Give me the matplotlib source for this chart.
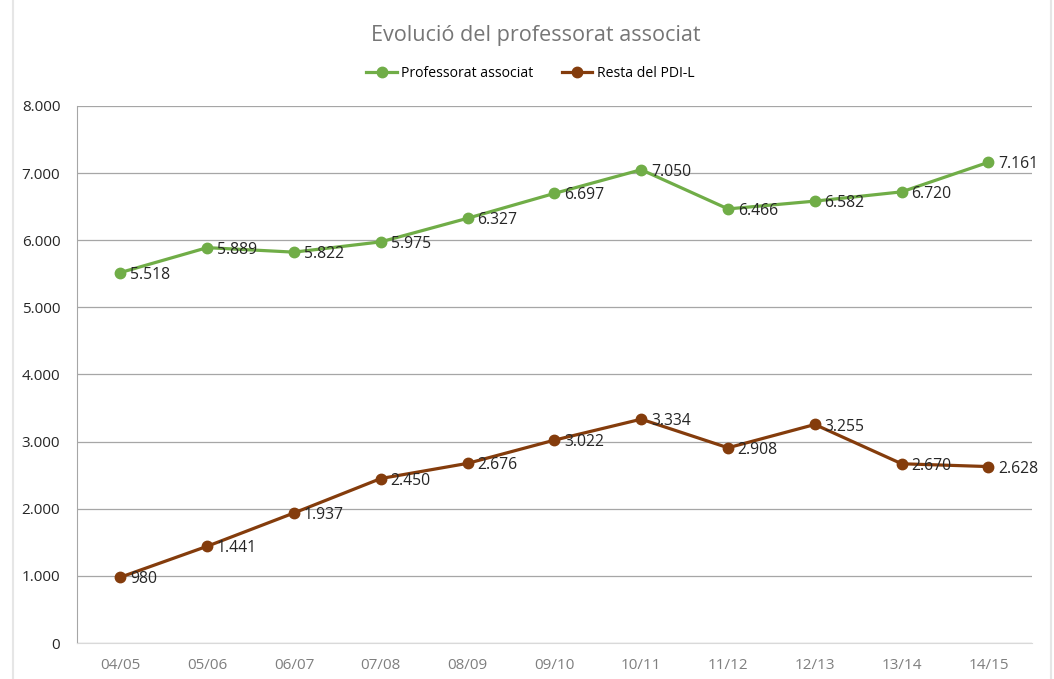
import matplotlib
matplotlib.use("Agg")
import matplotlib.pyplot as plt
from matplotlib.ticker import FuncFormatter, MultipleLocator

categories = ["04/05", "05/06", "06/07", "07/08", "08/09", "09/10", "10/11", "11/12", "12/13", "13/14", "14/15"]
associat = [5518, 5889, 5822, 5975, 6327, 6697, 7050, 6466, 6582, 6720, 7161]
resta = [980, 1441, 1937, 2450, 2676, 3022, 3334, 2908, 3255, 2670, 2628]

plt.rcParams['font.family'] = ['Open Sans', 'DejaVu Sans']

def fmt(v):
    return f"{int(v):,}".replace(",", ".")

fig = plt.figure(figsize=(10.54, 6.79), dpi=100)
ax = fig.add_axes([0.073, 0.053, 0.906, 0.791])

x = list(range(len(categories)))
green = "#70AD47"
brown = "#843C0C"
ax.plot(x, associat, color=green, lw=2.3, marker="o", ms=7.5, label="Professorat associat", zorder=3)
ax.plot(x, resta, color=brown, lw=2.3, marker="o", ms=7.5, label="Resta del PDI-L", zorder=3)

for xs, ys in ((x, associat), (x, resta)):
    for xi, yi in zip(xs, ys):
        ax.annotate(fmt(yi), (xi, yi), xytext=(7, -1.5), textcoords="offset points",
                    ha="left", va="center", fontsize=11.3, color="#262626", zorder=4)

ax.set_xlim(-0.5, len(categories) - 0.5)
ax.set_ylim(0, 8000)
ax.yaxis.set_major_locator(MultipleLocator(1000))
ax.yaxis.set_major_formatter(FuncFormatter(lambda v, p: fmt(v)))
ax.set_xticks(x)
ax.set_xticklabels(categories)
ax.grid(axis="y", color="#A6A6A6", lw=0.9)
ax.set_axisbelow(True)
for s in ("top", "right"):
    ax.spines[s].set_visible(False)
ax.spines["left"].set_color("#A6A6A6")
ax.spines["bottom"].set_color("#D9D9D9")
ax.tick_params(axis="both", length=0)
ax.tick_params(axis="y", labelsize=11, labelcolor="#262626", pad=12)
ax.tick_params(axis="x", labelsize=11, labelcolor="#7F7F7F", pad=11)

fig.text(0.508, 0.948, "Evolució del professorat associat", ha="center", va="center",
         fontsize=15.6, color="#767676")
ax.legend(loc="center", bbox_to_anchor=(0.503, 0.892), bbox_transform=fig.transFigure,
          ncol=2, frameon=False, fontsize=10.1, handlelength=2.2, columnspacing=2.0,
          handletextpad=0.3)

# light outer chart border
fig.add_artist(plt.Line2D([0.012, 0.012], [0, 1], color="#E6E6E6", lw=1.5, transform=fig.transFigure))
fig.add_artist(plt.Line2D([0.997, 0.997], [0, 1], color="#E6E6E6", lw=1.5, transform=fig.transFigure))

fig.savefig("out.png", dpi=100)
